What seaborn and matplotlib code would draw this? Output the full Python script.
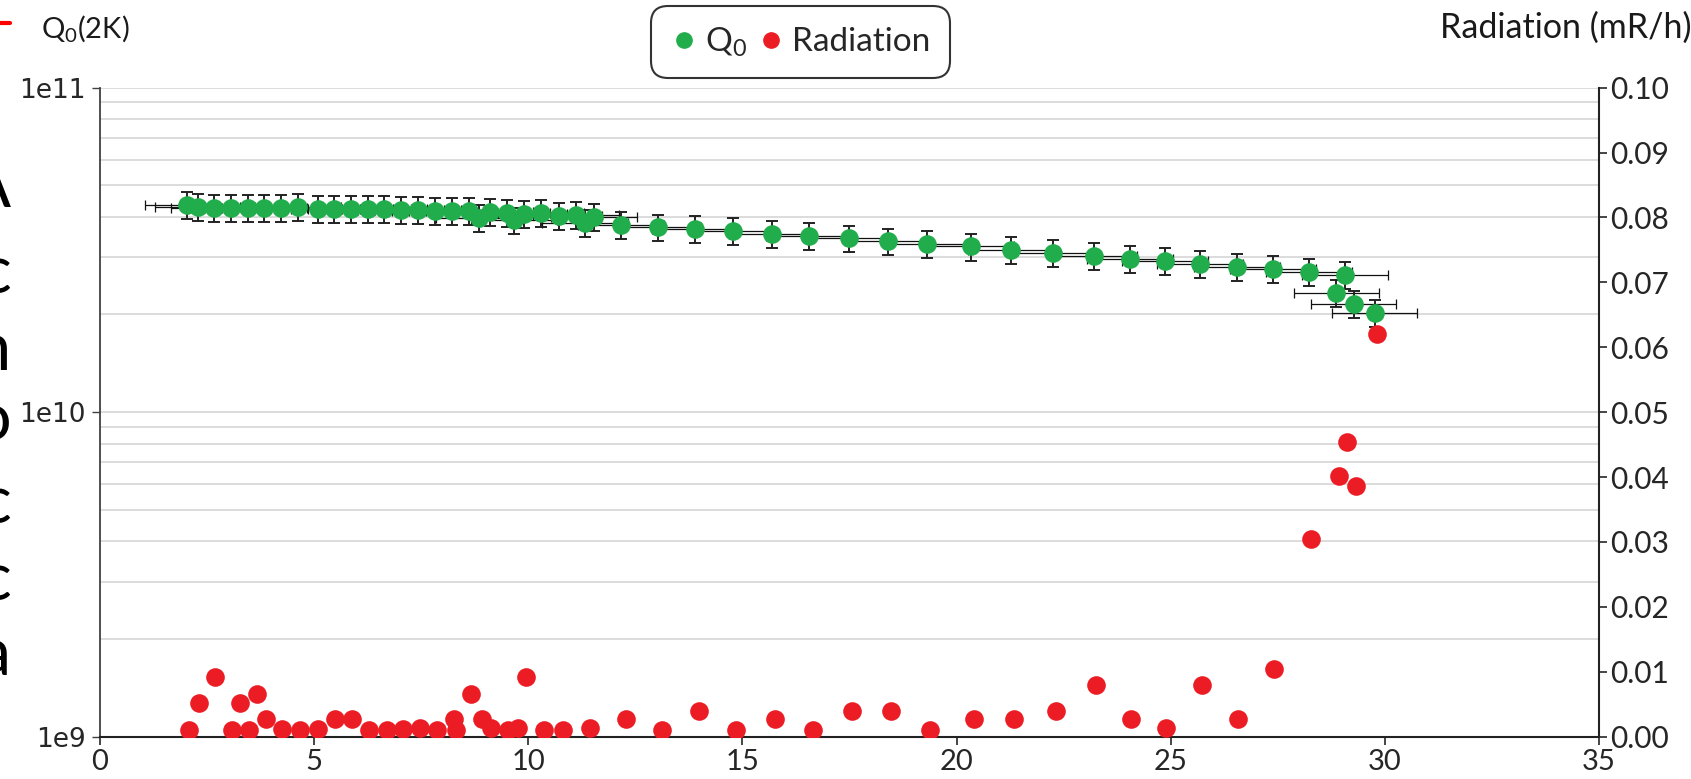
import numpy as np
import pandas as pd
import matplotlib
matplotlib.use("Agg")
import matplotlib.pyplot as plt
from matplotlib.lines import Line2D
from matplotlib.ticker import LogLocator, NullFormatter
import seaborn as sns

# Q0 measurements: accelerating gradient (MV/m) and Q0 in units of 1e10
q0_x = [2.04, 2.28, 2.66, 3.06, 3.45, 3.84, 4.23, 4.62, 5.08, 5.46,
        5.85, 6.25, 6.64, 7.03, 7.43, 7.82, 8.22, 8.62, 8.85, 9.10,
        9.50, 9.67, 9.90, 10.30, 10.71, 11.11, 11.33, 11.53,
        12.17, 13.04, 13.90, 14.77, 15.68, 16.56, 17.48, 18.39, 19.31, 20.33,
        21.27, 22.24, 23.22, 24.05, 24.86, 25.69, 26.55, 27.39, 28.23, 29.07,
        28.87, 29.27, 29.76]
q0_vals = [4.34, 4.30, 4.26, 4.26, 4.26, 4.26, 4.26, 4.29, 4.24, 4.24,
           4.24, 4.22, 4.22, 4.20, 4.20, 4.18, 4.16, 4.16, 3.97, 4.15,
           4.11, 3.90, 4.08, 4.11, 4.03, 4.06, 3.83, 3.99,
           3.78, 3.71, 3.66, 3.61, 3.54, 3.49, 3.43, 3.36, 3.30, 3.24,
           3.17, 3.10, 3.03, 2.97, 2.92, 2.86, 2.80, 2.77, 2.71, 2.65,
           2.33, 2.15, 2.02]
q0_rel_err = 0.095   # relative Q0 uncertainty
grad_err = 1.0       # gradient uncertainty (MV/m)

# radiation readings (mR/h)
rad_x = [2.07, 2.31, 2.69, 3.08, 3.27, 3.48, 3.67, 3.87, 4.25, 4.67,
         5.08, 5.48, 5.89, 6.28, 6.69, 7.08, 7.48, 7.87, 8.27, 8.32,
         8.66, 8.92, 9.12, 9.53, 9.77, 9.95, 10.37, 10.80, 11.43, 12.27,
         13.13, 13.99, 14.86, 15.77, 16.65, 17.56, 18.46, 19.39, 20.41, 21.33,
         22.31, 23.25, 24.08, 24.89, 25.73, 26.57, 27.41, 28.27, 28.93, 29.11,
         29.32, 29.81]
rad_y = [0.0010, 0.0052, 0.0092, 0.0010, 0.0052, 0.0010, 0.0066, 0.0027, 0.0012, 0.0010,
         0.0012, 0.0027, 0.0027, 0.0010, 0.0010, 0.0012, 0.0013, 0.0010, 0.0027, 0.0010,
         0.0066, 0.0027, 0.0013, 0.0010, 0.0013, 0.0092, 0.0010, 0.0010, 0.0013, 0.0027,
         0.0010, 0.0040, 0.0010, 0.0027, 0.0010, 0.0040, 0.0040, 0.0010, 0.0027, 0.0027,
         0.0040, 0.0079, 0.0027, 0.0013, 0.0079, 0.0027, 0.0105, 0.0305, 0.0401, 0.0454,
         0.0386, 0.0621]

left_ticks = [1e9, 1e10, 1e11]
left_labels = ["1e9", "1e10", "1e11"]
right_ticks = [i / 100 for i in range(11)]
x_ticks = [0, 5, 10, 15, 20, 25, 30, 35]

GREEN = "#21ad4b"
RED = "#ec1c24"
W, H = 1691, 779


def main():
    sns.set_style("white")
    plt.rcParams["font.family"] = ["Lato", "DejaVu Sans"]
    plt.rcParams["mathtext.default"] = "regular"

    q0 = pd.DataFrame({"grad": q0_x, "q0": np.array(q0_vals) * 1e10})
    rad = pd.DataFrame({"grad": rad_x, "rad": rad_y})

    fig = plt.figure(figsize=(W / 100, H / 100), dpi=100)
    ax = fig.add_axes([100 / W, 1 - 736.7 / H, 1499 / W, 649.1 / H])
    ax.set_yscale("log")
    ax.set_xlim(0, 35)
    ax.set_ylim(1e9, 1e11)

    # error bars first so markers sit on top
    ax.errorbar(q0.grad, q0.q0, xerr=grad_err, fmt="none", ecolor="#111111",
                elinewidth=0.9, capsize=3.5, capthick=0.9, zorder=2)
    ax.errorbar(q0.grad, q0.q0, yerr=q0.q0 * q0_rel_err, fmt="none", ecolor="#222222",
                elinewidth=1.4, capsize=4.5, capthick=1.4, zorder=2)
    sns.scatterplot(data=q0, x="grad", y="q0", ax=ax, color=GREEN, s=180,
                    linewidth=0, zorder=3, legend=False)

    ax.set_yticks(left_ticks)
    ax.set_yticklabels(left_labels, family="DejaVu Sans", fontsize=19, color="#262626")
    ax.yaxis.set_minor_locator(LogLocator(base=10, subs=np.arange(2, 10)))
    ax.yaxis.set_minor_formatter(NullFormatter())
    ax.tick_params(axis="y", which="minor", length=0)
    ax.tick_params(axis="y", which="major", direction="out", length=6, width=1,
                   color="#404040", left=True, pad=4)
    ax.grid(False)
    ax.yaxis.grid(True, which="both", color="#d6d6d6", lw=1.2)
    ax.set_axisbelow(True)

    ax.set_xticks(x_ticks)
    ax.set_xticklabels([str(t) for t in x_ticks], fontsize=21)
    ax.tick_params(axis="x", direction="out", length=6, width=1.2, bottom=True, pad=3)
    ax.set_xlabel("")
    ax.set_ylabel("")

    for side in ["top", "right"]:
        ax.spines[side].set_visible(False)
    ax.spines["left"].set_color("#404040")
    ax.spines["left"].set_linewidth(1.3)
    ax.spines["bottom"].set_color("#222222")
    ax.spines["bottom"].set_linewidth(1.5)

    ax2 = ax.twinx()
    sns.scatterplot(data=rad, x="grad", y="rad", ax=ax2, color=RED, s=180,
                    linewidth=0, zorder=4, legend=False)
    ax2.set_ylim(0, 0.10)
    ax2.set_xlim(0, 35)
    ax2.set_yticks(right_ticks)
    ax2.set_yticklabels([f"{v:.2f}" for v in right_ticks], fontsize=21.5)
    ax2.tick_params(axis="y", direction="out", length=6, width=1.2, right=True, pad=2)
    ax2.set_ylabel("")
    ax2.grid(False)
    for side in ["top", "left", "bottom"]:
        ax2.spines[side].set_visible(False)
    ax2.spines["right"].set_color("#222222")
    ax2.spines["right"].set_linewidth(1.5)

    # legend
    handles = [Line2D([], [], marker="o", ls="none", color=GREEN, markersize=11),
               Line2D([], [], marker="o", ls="none", color=RED, markersize=11)]
    leg = fig.legend(handles, ["Q$_0$", "Radiation"], loc="center",
                     bbox_to_anchor=(800.5 / W, 1 - 42 / H), ncol=2, fontsize=24,
                     frameon=True, fancybox=True, handlelength=0.8,
                     handletextpad=0.25, columnspacing=0.3, borderpad=0.58)
    frame = leg.get_frame()
    frame.set_edgecolor("black")
    frame.set_linewidth(1.5)
    frame.set_boxstyle("round,pad=0,rounding_size=0.5")

    # axis titles
    fig.text(41 / W, 1 - 37 / H, "Q$_0$(2K)", fontsize=21, ha="left", va="baseline",
             color="#1a1a1a")
    fig.add_artist(Line2D([0, 10 / W], [1 - 23 / H, 1 - 23 / H], color="red", lw=3))
    fig.text(1.0, 1 - 38 / H, "Radiation (mR/h)", fontsize=24.5, ha="right",
             va="baseline", color="#1a1a1a")

    # edge of slide text cut by the screenshot
    for ch, base in [("A", 207), ("c", 293), ("n", 370), ("o", 440),
                     ("c", 523), ("c", 600), ("a", 675)]:
        fig.text(11 / W, 1 - base / H, ch, fontsize=48, ha="right", va="baseline",
                 color="black")

    fig.savefig("out.png", dpi=100)


if __name__ == "__main__":
    main()
